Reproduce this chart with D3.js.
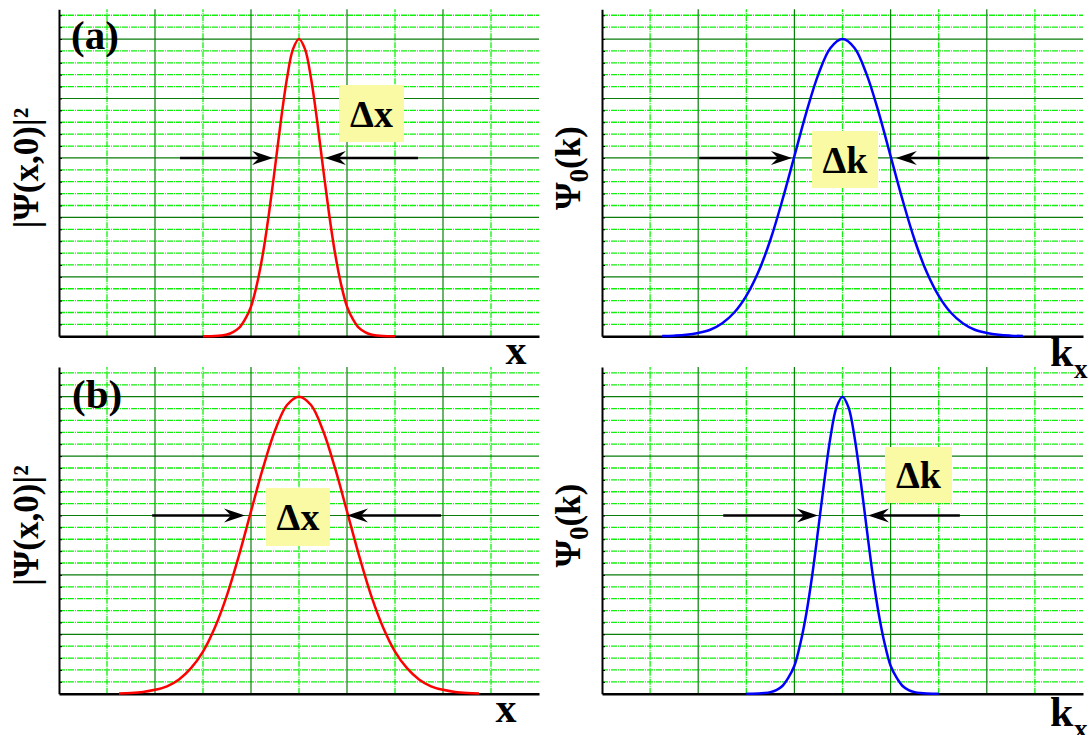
<!DOCTYPE html>
<html>
<head>
<meta charset="utf-8">
<script src="https://cdn.jsdelivr.net/npm/d3@7"></script>
<style>
  body { margin: 0; background: #fff; }
  svg { display: block; }
  text { font-family: "Liberation Serif", "Times New Roman", serif; font-weight: bold; fill: #000; }
</style>
</head>
<body>
<div id="chart"></div>
<script>
// sample positions along x (same 0..10 units in every panel)
const xNarrow = [3, 3.125, 3.25, 3.375, 3.5, 3.625, 3.75, 3.875, 4, 4.125, 4.25, 4.375, 4.5, 4.625, 4.75, 4.875, 5,
                 5.125, 5.25, 5.375, 5.5, 5.625, 5.75, 5.875, 6, 6.125, 6.25, 6.375, 6.5, 6.625, 6.75, 6.875, 7];
const xWide = [1.25, 1.5, 1.75, 2, 2.25, 2.5, 2.75, 3, 3.25, 3.5, 3.75, 4, 4.25, 4.5, 4.75, 5,
               5.25, 5.5, 5.75, 6, 6.25, 6.5, 6.75, 7, 7.25, 7.5, 7.75, 8, 8.25, 8.5, 8.75];

// (a) narrow packet |psi(x,0)|^2 and its wide spectrum
const densityA = [0, 0.002, 0.005, 0.013, 0.03, 0.07, 0.14, 0.285, 0.5, 0.88, 1.4, 2.07, 2.84, 3.64, 4.34, 4.83, 5,
                  4.83, 4.34, 3.64, 2.84, 2.07, 1.4, 0.88, 0.5, 0.285, 0.14, 0.07, 0.03, 0.013, 0.005, 0.002, 0];
const spectrumA = [0.004, 0.011, 0.025, 0.056, 0.11, 0.22, 0.4, 0.68, 1.08, 1.62, 2.29, 3.03, 3.77, 4.41, 4.85, 5,
                   4.85, 4.41, 3.77, 3.03, 2.29, 1.62, 1.08, 0.68, 0.4, 0.22, 0.11, 0.056, 0.025, 0.011, 0.004];

// (b) wide packet and its narrow spectrum
const densityB = [0.005, 0.013, 0.03, 0.065, 0.125, 0.24, 0.43, 0.71, 1.12, 1.66, 2.33, 3.07, 3.8, 4.43, 4.86, 5,
                  4.86, 4.43, 3.8, 3.07, 2.33, 1.66, 1.12, 0.71, 0.43, 0.24, 0.125, 0.065, 0.03, 0.013, 0.005];
const spectrumB = [0, 0.001, 0.004, 0.011, 0.026, 0.062, 0.13, 0.27, 0.47, 0.85, 1.36, 2.02, 2.8, 3.6, 4.32, 4.82, 5,
                   4.82, 4.32, 3.6, 2.8, 2.02, 1.36, 0.85, 0.47, 0.27, 0.13, 0.062, 0.026, 0.011, 0.004, 0.001, 0];

// width arrows: [tail, tip] in x units, all drawn at level 3
const arrowLevel = 3;
const arrowsDensityA = [[2.52, 4.46], [7.48, 5.54]];
const arrowsSpectrumA = [[2.02, 3.95], [8.05, 6.11]];
const arrowsDensityB = [[1.94, 3.875], [7.96, 6.0]];
const arrowsSpectrumB = [[2.52, 4.49], [7.44, 5.53]];

const width = 1089, height = 735;

const svg = d3.select("#chart").append("svg")
  .attr("width", width)
  .attr("height", height);

function drawPanel(p) {
  const x = d3.scaleLinear().domain([0, 10]).range([p.left, p.right]);
  const y = d3.scaleLinear().domain([0, 5.5]).range([p.bottom, p.top]);
  const g = svg.append("g");

  // grid: minor every 0.2 (dashed light green), major every 1 (dark green)
  const yMinor = d3.range(1, 28).map(i => +(i * 0.2).toFixed(1)).filter(v => v % 1 !== 0);
  const yMajor = [1, 2, 3, 4, 5];
  const xMinor = [1, 3, 5, 7, 9];
  const xMajor = [2, 4, 6, 8];

  g.selectAll(".hminor").data(yMinor).enter().append("line")
    .attr("x1", x(0)).attr("x2", x(10))
    .attr("y1", d => y(d)).attr("y2", d => y(d))
    .attr("stroke", "#0ff00a").attr("stroke-width", 1.3)
    .attr("stroke-dasharray", "6,1,1,1");
  g.selectAll(".vminor").data(xMinor).enter().append("line")
    .attr("x1", d => x(d)).attr("x2", d => x(d))
    .attr("y1", y(0)).attr("y2", y(5.5))
    .attr("stroke", "#0ff00a").attr("stroke-width", 1.3)
    .attr("stroke-dasharray", "6,1,1,1");
  g.selectAll(".hmajor").data(yMajor).enter().append("line")
    .attr("x1", x(0)).attr("x2", x(10))
    .attr("y1", d => y(d)).attr("y2", d => y(d))
    .attr("stroke", "#0a7d0a").attr("stroke-width", 1.2);
  g.selectAll(".vmajor").data(xMajor).enter().append("line")
    .attr("x1", d => x(d)).attr("x2", d => x(d))
    .attr("y1", y(0)).attr("y2", y(5.5))
    .attr("stroke", "#0a7d0a").attr("stroke-width", 1.2);

  // axes (no labels, small inward ticks on the left one)
  const yAxis = g.append("g")
    .attr("transform", "translate(" + x(0) + ",0)")
    .call(d3.axisRight(y).tickValues(yMinor.concat(yMajor)).tickSize(3).tickSizeOuter(0).tickFormat(""));
  yAxis.select(".domain").attr("stroke", "#000").attr("stroke-width", 2);
  yAxis.selectAll(".tick line").attr("stroke", "#000").attr("stroke-width", 1);

  const xAxis = g.append("g")
    .attr("transform", "translate(0," + y(0) + ")")
    .call(d3.axisBottom(x).tickValues([]).tickSizeOuter(0));
  xAxis.select(".domain").attr("stroke", "#000").attr("stroke-width", 2.5);

  // the curve
  const line = d3.line()
    .x((d, i) => x(p.xs[i]))
    .y(d => y(d))
    .curve(d3.curveCatmullRom.alpha(0.5));
  g.append("path")
    .datum(p.ys)
    .attr("d", line)
    .attr("fill", "none")
    .attr("stroke", p.color)
    .attr("stroke-width", 2.5);

  // width arrows with barbed heads
  const headLen = 21, headHalf = 7;
  p.arrows.forEach(a => {
    const x0 = x(a[0]), x1 = x(a[1]), yy = y(arrowLevel);
    const dir = x1 > x0 ? 1 : -1;
    g.append("line")
      .attr("x1", x0).attr("x2", x1 - dir * 14)
      .attr("y1", yy).attr("y2", yy)
      .attr("stroke", "#000").attr("stroke-width", 2.6);
    g.append("path")
      .attr("d", "M" + x1 + "," + yy +
        "L" + (x1 - dir * headLen) + "," + (yy - headHalf) +
        "L" + (x1 - dir * 14) + "," + yy +
        "L" + (x1 - dir * headLen) + "," + (yy + headHalf) + "Z")
      .attr("fill", "#000");
  });

  // yellow width label
  g.append("rect")
    .attr("x", p.box.x).attr("y", p.box.y)
    .attr("width", p.box.w).attr("height", p.box.h)
    .attr("fill", "#fafaa5");
  g.append("text")
    .attr("x", p.box.x + p.box.w / 2)
    .attr("y", p.box.y + p.box.h / 2 + 13)
    .attr("text-anchor", "middle")
    .style("font-size", "38px")
    .text(p.box.text);
}

// top row
drawPanel({ left: 59, right: 539, top: 9.3, bottom: 336.3, xs: xNarrow, ys: densityA, color: "#ff0000",
  arrows: arrowsDensityA, box: { x: 339, y: 85, w: 65, h: 57, text: "Δx" } });
drawPanel({ left: 602, right: 1083, top: 9.3, bottom: 336.3, xs: xWide, ys: spectrumA, color: "#0000ff",
  arrows: arrowsSpectrumA, box: { x: 812, y: 131, w: 66, h: 57, text: "Δk" } });
// bottom row
drawPanel({ left: 59, right: 539, top: 367, bottom: 693.7, xs: xWide, ys: densityB, color: "#ff0000",
  arrows: arrowsDensityB, box: { x: 266, y: 488, w: 64, h: 58, text: "Δx" } });
drawPanel({ left: 602, right: 1083, top: 367, bottom: 693.7, xs: xNarrow, ys: spectrumB, color: "#0000ff",
  arrows: arrowsSpectrumB, box: { x: 885, y: 447, w: 67, h: 56, text: "Δk" } });

// panel letters
svg.append("text").attr("x", 71).attr("y", 49).style("font-size", "41px").text("(a)");
svg.append("text").attr("x", 72).attr("y", 408).style("font-size", "41px").text("(b)");

// y labels (rotated)
[168, 525.5].forEach(cy => {
  svg.append("text")
    .attr("transform", "translate(38," + cy + ") rotate(-90)")
    .attr("text-anchor", "middle")
    .style("font-size", "35px")
    .text("|Ψ(x,0)|²");
  const t = svg.append("text")
    .attr("transform", "translate(580," + cy + ") rotate(-90)")
    .attr("text-anchor", "middle")
    .style("font-size", "35px");
  t.append("tspan").text("Ψ");
  t.append("tspan").attr("dy", 8).style("font-size", "27px").text("0");
  t.append("tspan").attr("dy", -8).text("(k)");
});

// x labels
svg.append("text").attr("x", 516).attr("y", 364).attr("text-anchor", "middle").style("font-size", "42px").text("x");
svg.append("text").attr("x", 506).attr("y", 722).attr("text-anchor", "middle").style("font-size", "42px").text("x");
[[366, 378], [726, 738]].forEach(b => {
  svg.append("text").attr("x", 1050).attr("y", b[0]).style("font-size", "42px").text("k");
  svg.append("text").attr("x", 1074).attr("y", b[1]).style("font-size", "27px").text("x");
});
</script>
</body>
</html>
